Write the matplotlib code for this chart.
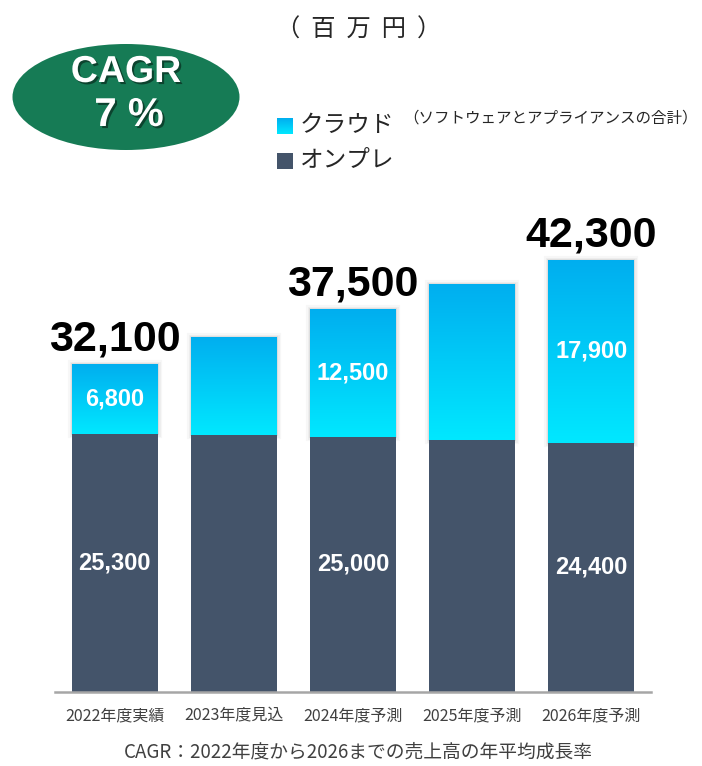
import numpy as np
import matplotlib
matplotlib.use("Agg")
import matplotlib.pyplot as plt
from matplotlib.patches import Rectangle, Ellipse
import matplotlib.patheffects as pe

# ---- data ----
categories = ["2022年度実績", "2023年度見込", "2024年度予測", "2025年度予測", "2026年度予測"]
onprem = [25300, 25200, 25000, 24700, 24400]
cloud = [6800, 9600, 12500, 15300, 17900]
totals = [32100, 34800, 37500, 40000, 42300]
show_labels = [True, False, True, False, True]

W, H = 702, 766
fig = plt.figure(figsize=(W / 100, H / 100), dpi=100)
JP = ["Noto Sans CJK JP", "DejaVu Sans"]

def fx(px):
    return px / W

def fy(py):
    return 1 - py / H

# axes placement (pixels)
ax_left, ax_right, ax_base, ax_top = 55, 651, 692, 200
ax = fig.add_axes([fx(ax_left), fy(ax_base), (ax_right - ax_left) / W, (ax_base - ax_top) / H])

x = np.arange(len(categories))
bw = 0.72
onprem_color = "#44546A"
c_top = np.array([0, 174, 239]) / 255
c_bot = np.array([0, 232, 255]) / 255
grad = np.linspace(0, 1, 256)[:, None]
grad_img = (c_top[None, None, :] * (1 - grad[..., None]) + c_bot[None, None, :] * grad[..., None])

shadow = [pe.Stroke(linewidth=6, foreground="#000000", alpha=0.03),
          pe.Stroke(linewidth=3.5, foreground="#000000", alpha=0.04),
          pe.Stroke(linewidth=1.5, foreground="#000000", alpha=0.06),
          pe.Normal()]

bars_c = ax.bar(x, cloud, bw, bottom=onprem, color=c_top, zorder=2, linewidth=0)
for b in bars_c:
    b.set_path_effects(shadow)
    x0, y0 = b.get_x(), b.get_y()
    im = ax.imshow(grad_img, extent=(x0, x0 + b.get_width(), y0, y0 + b.get_height()),
                   aspect="auto", zorder=3, interpolation="bilinear")
    im.set_clip_path(b)
bars_o = ax.bar(x, onprem, bw, color=onprem_color, zorder=4, linewidth=0)

ax.set_xlim(-0.5, len(categories) - 0.5)
ax.set_ylim(0, (ax_base - ax_top) / 0.01021)

for s in ["top", "right", "left"]:
    ax.spines[s].set_visible(False)
ax.spines["bottom"].set_color("#A6A6A6")
ax.spines["bottom"].set_linewidth(1.8)
ax.spines["bottom"].set_zorder(5)
ax.set_yticks([])
ax.set_xticks(x)
ax.set_xticklabels(categories, family=JP, fontsize=11.5, color="#404040")
ax.tick_params(axis="x", length=0, pad=11)

# value labels
for i in range(len(categories)):
    if show_labels[i]:
        ax.text(x[i], onprem[i] / 2, f"{onprem[i]:,}", ha="center", va="center",
                color="white", fontsize=17, fontweight="bold", family="Liberation Sans", zorder=6)
        ax.text(x[i], onprem[i] + cloud[i] / 2, f"{cloud[i]:,}", ha="center", va="center",
                color="white", fontsize=17, fontweight="bold", family="Liberation Sans", zorder=6)
        ax.annotate(f"{totals[i]:,}", (x[i], totals[i]), xytext=(0, 10), textcoords="offset points",
                    ha="center", va="baseline", fontsize=31, fontweight="bold",
                    family="Liberation Sans", color="black", zorder=6)

# unit
fig.text(fx(359), fy(30), "（  百  万  円  ）", ha="center", va="center", fontsize=17.5,
         family=JP, color="#262626")

# CAGR ellipse
ell = Ellipse((fx(126), fy(97)), 227 / W, 106 / H, transform=fig.transFigure,
              facecolor="#167B55", edgecolor="none")
fig.add_artist(ell)
sh = [pe.withSimplePatchShadow(offset=(1.5, -1.5), shadow_rgbFace="black", alpha=0.45)]
fig.text(fx(126), fy(72), "CAGR", ha="center", va="center", fontsize=27, fontweight="bold",
         family="Liberation Sans", color="white", path_effects=sh)
fig.text(fx(129), fy(115), "7 %", ha="center", va="center", fontsize=29, fontweight="bold",
         family="Liberation Sans", color="white", path_effects=sh)

# legend
lax = fig.add_axes([fx(277), fy(134), 16 / W, 16 / H])
lax.imshow(grad_img, aspect="auto", extent=(0, 1, 0, 1))
lax.set_axis_off()
fig.add_artist(Rectangle((fx(277), fy(169)), 16 / W, 16 / H, transform=fig.transFigure,
                         facecolor=onprem_color, edgecolor="none"))
fig.text(fx(300), fy(125), "クラウド", ha="left", va="center", fontsize=17, family=JP, color="#262626")
fig.text(fx(403), fy(118), "（ソフトウェアとアプライアンスの合計）", ha="left", va="center",
         fontsize=11.2, family=JP, color="#262626")
fig.text(fx(300), fy(161), "オンプレ", ha="left", va="center", fontsize=17, family=JP, color="#262626")

# footnote
fig.text(fx(358), fy(752), "CAGR：2022年度から2026までの売上高の年平均成長率", ha="center", va="center",
         fontsize=13.5, family=JP, color="#404040")

fig.savefig("out.png", dpi=100)
